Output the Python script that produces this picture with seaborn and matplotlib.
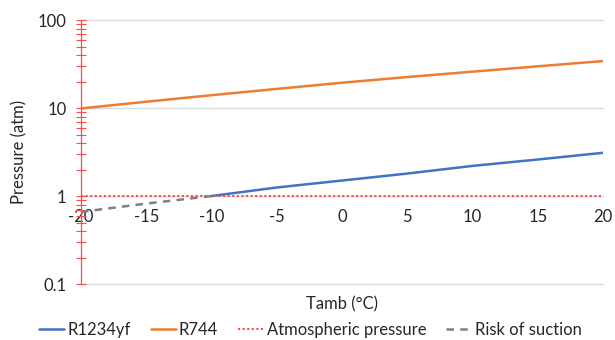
import numpy as np
import pandas as pd
import seaborn as sns
import matplotlib.pyplot as plt
from matplotlib.ticker import LogLocator, FixedLocator, NullFormatter

# data
temps = [-20, -15, -10, -5, 0, 5, 10, 15, 20]
r744 = [9.9, 11.8, 14.0, 16.5, 19.4, 22.5, 25.9, 29.8, 34.2]
r1234yf_t = [-10, -5, 0, 5, 10, 15, 20]
r1234yf = [1.0, 1.25, 1.5, 1.8, 2.2, 2.6, 3.1]
atm_t = [-20, 20]
atm = [1.0, 1.0]
suction_t = [-20, -15, -10]
suction = [0.66, 0.82, 1.0]
x_ticks = [-20, -15, -10, -5, 0, 5, 10, 15, 20]
y_ticks = [0.1, 1, 10, 100]
y_labels = ["0.1", "1", "10", "100"]

sns.set_theme(style="white")
plt.rcParams["font.family"] = ["Lato", "DejaVu Sans"]

fig = plt.figure(figsize=(6.15, 3.4), dpi=100)
ax = fig.add_axes([0.1317, 0.1647, 0.8488, 0.7763])

blue = "#4472C4"
orange = "#ED7D31"
red = "#FF4B4B"
gray = "#7F7F7F"
txt = "#262626"

sns.lineplot(x=r1234yf_t, y=r1234yf, ax=ax, color=blue, lw=1.8, label="R1234yf")
sns.lineplot(x=temps, y=r744, ax=ax, color=orange, lw=1.8, label="R744")
sns.lineplot(x=atm_t, y=atm, ax=ax, color=red, lw=1.5, ls=(0, (1, 1.2)),
             label="Atmospheric pressure")
sns.lineplot(x=suction_t, y=suction, ax=ax, color=gray, lw=1.8, ls=(0, (3, 2.5)),
             label="Risk of suction")

ax.set_yscale("log")
ax.set_ylim(0.1, 100)
ax.set_xlim(-20, 20)
ax.yaxis.set_major_locator(FixedLocator(y_ticks))
ax.set_yticklabels(y_labels)
ax.yaxis.set_minor_locator(LogLocator(base=10, subs=np.arange(2, 10)))
ax.yaxis.set_minor_formatter(NullFormatter())
ax.set_xticks(x_ticks)
ax.set_xticklabels([str(t) for t in x_ticks])

ax.grid(axis="y", which="major", color="#D9D9D9", lw=1, clip_on=False)
for s in ["top", "right"]:
    ax.spines[s].set_visible(False)
ax.spines["bottom"].set_position(("data", 1))
ax.spines["bottom"].set_visible(False)
ax.spines["left"].set_color(red)
ax.spines["left"].set_linewidth(0.9)

ax.tick_params(axis="y", which="both", direction="inout", length=7, width=0.8,
               color=red, labelsize=12, pad=7, left=True, labelcolor=txt)
ax.tick_params(axis="x", length=0, labelsize=12, pad=9, colors=txt)

ax.set_xlabel("Tamb (°C)", fontsize=12, color=txt, labelpad=0)
ax.xaxis.set_label_coords(0.5, -0.045)
ax.set_ylabel("Pressure (atm)", fontsize=12, color=txt, labelpad=7)

ax.legend(loc="center", bbox_to_anchor=(0.439, -0.174), ncol=4, frameon=False,
          fontsize=12, handlelength=1.5, handletextpad=0.2, columnspacing=1.2,
          labelcolor=txt)

fig.savefig("out.png", dpi=100)
